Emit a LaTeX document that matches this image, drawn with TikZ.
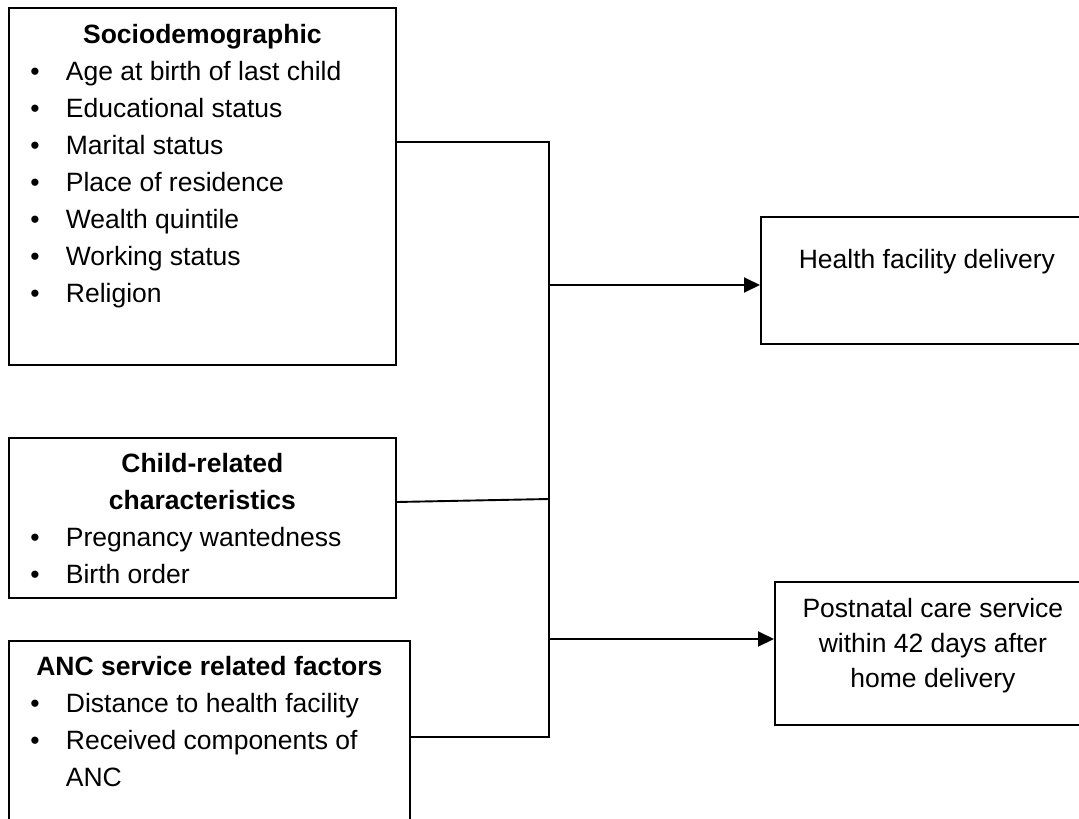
\documentclass[tikz,border=0pt]{standalone}
\usepackage{fontspec}
\setmainfont{Liberation Sans}
\usetikzlibrary{arrows.meta}
\tikzset{
	factor/.style={draw, line width=1.8pt, anchor=north west, inner xsep=21.4pt, inner ysep=0pt},
	outcome/.style={draw, line width=1.8pt, anchor=north west, inner sep=0pt},
	link/.style={line width=1.9pt},
	flow/.style={line width=1.9pt, -{Triangle[length=16pt,width=15pt]}}
}
\def\itemlist#1#2{\begin{tabular}[t]{@{}p{35.6pt}@{}p{#1}@{}}#2\end{tabular}}

\begin{document}
\begin{tikzpicture}[x=1pt, y=-1pt, font=\fontsize{26.5pt}{37pt}\selectfont]
	%%%%% START %%%%%
	\useasboundingbox (0,0) rectangle (1079,819);
	
	\node[factor, text height=36pt, text depth=321pt] (socio) at (8,7) {\itemlist{308.6pt}{%
		\multicolumn{2}{c}{\bfseries Sociodemographic}\\
		• & Age at birth of last child\\
		• & Educational status\\
		• & Marital status\\
		• & Place of residence\\
		• & Wealth quintile\\
		• & Working status\\
		• & Religion}};
	
	\node[factor, text height=35pt, text depth=125pt] (child) at (8,437) {\itemlist{308.6pt}{%
		\multicolumn{2}{c}{\bfseries Child-related}\\
		\multicolumn{2}{c}{\bfseries characteristics}\\
		• & Pregnancy wantedness\\
		• & Birth order}};
	
	\node[factor, text height=35pt, text depth=200pt] (anc) at (8,640) {\itemlist{318.6pt}{%
		\multicolumn{2}{c}{\bfseries ANC service related factors}\\
		• & Distance to health facility\\
		• & Received components of\\
		  & ANC}};
	
	\node[outcome, minimum width=332pt, text height=52pt, text depth=75pt] (hfd) at (760,216) {Health facility delivery};
	\node[outcome, minimum width=316pt, text height=36pt, text depth=107pt, font=\fontsize{26.5pt}{35pt}\selectfont] (pnc) at (774,581)
		{\begin{tabular}[t]{@{}c@{}}Postnatal care service\\within 42 days after\\home delivery\end{tabular}};
	
	\coordinate (bustop) at (549,142);
	\coordinate (bushfd) at (549,285);
	\coordinate (buschild) at (549,499);
	\coordinate (buspnc) at (549,639);
	\coordinate (busbot) at (549,737);
	
	\draw[link] ([yshift=-135pt]socio.north east) -- (bustop) -- (busbot) -- ([yshift=-97pt]anc.north east);
	\draw[link] ([yshift=-65pt]child.north east) -- (buschild);
	
	\draw[flow] (bushfd) -- (bushfd -| hfd.west);
	\draw[flow] (buspnc) -- (buspnc -| pnc.west);
	
	%%%%% END %%%%%
\end{tikzpicture}
\end{document}
